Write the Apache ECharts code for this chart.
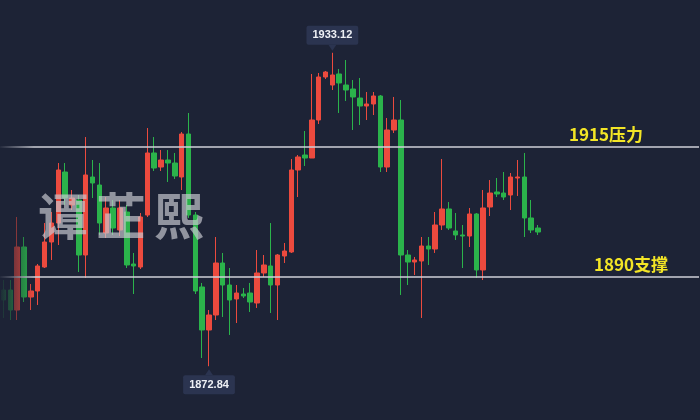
<!DOCTYPE html>
<html>
<head>
<meta charset="utf-8">
<script src="https://cdn.jsdelivr.net/npm/echarts@6/dist/echarts.min.js"></script>
<style>
html,body{margin:0;padding:0;background:#1d2336;}
#chart{width:700px;height:420px;}
</style>
</head>
<body>
<div id="chart"></div>
<script>
// ---- data ----
const opens = [
  1887.50, 1887.50, 1883.65, 1895.77, 1886.15, 1887.31, 1891.92, 1896.73, 1900.38, 1910.19,
  1903.85, 1904.81, 1894.23, 1909.23, 1907.69, 1898.46, 1903.27, 1899.04, 1902.50, 1892.50,
  1891.92, 1901.92, 1913.85, 1911.15, 1912.50, 1911.92, 1909.23, 1917.50, 1901.92, 1888.08,
  1879.81, 1882.69, 1892.69, 1888.46, 1885.77, 1886.73, 1886.92, 1885.00, 1890.77, 1892.12,
  1888.46, 1894.04, 1894.81, 1910.58, 1913.46, 1912.88, 1920.19, 1928.46, 1926.92, 1929.04,
  1926.92, 1926.15, 1924.42, 1922.88, 1923.27, 1924.81, 1911.15, 1918.27, 1920.19, 1894.23,
  1892.88, 1893.08, 1895.96, 1895.38, 1900.00, 1903.08, 1898.85, 1898.08, 1897.88, 1902.12,
  1891.35, 1903.46, 1906.35, 1906.15, 1905.77, 1909.04, 1909.23, 1901.35, 1899.42
];
const closes = [
  1885.58, 1883.65, 1895.77, 1886.15, 1887.31, 1892.12, 1896.73, 1900.38, 1910.58, 1905.19,
  1905.19, 1894.23, 1909.62, 1908.08, 1900.38, 1903.27, 1899.42, 1903.27, 1892.31, 1892.12,
  1901.54, 1913.85, 1910.96, 1912.50, 1911.92, 1909.42, 1917.50, 1901.92, 1887.31, 1879.81,
  1882.69, 1892.69, 1888.46, 1885.58, 1886.92, 1886.35, 1885.19, 1890.77, 1892.31, 1888.46,
  1894.23, 1895.00, 1910.58, 1913.08, 1912.88, 1920.19, 1928.46, 1929.42, 1928.85, 1927.31,
  1925.96, 1924.62, 1922.88, 1923.27, 1924.81, 1911.15, 1918.27, 1920.19, 1894.23, 1892.88,
  1893.27, 1895.96, 1895.38, 1900.00, 1903.08, 1899.42, 1898.08, 1897.88, 1902.12, 1891.35,
  1903.27, 1906.15, 1905.96, 1905.38, 1909.23, 1909.23, 1901.35, 1899.04, 1898.65
];
const lows = [
  1882.12, 1881.73, 1881.73, 1885.19, 1883.65, 1884.62, 1891.73, 1893.27, 1896.15, 1903.85,
  1902.88, 1890.96, 1889.81, 1905.19, 1898.08, 1897.50, 1898.08, 1897.88, 1891.73, 1886.73,
  1891.54, 1901.54, 1910.38, 1910.38, 1908.27, 1908.85, 1906.73, 1901.35, 1886.73, 1874.42,
  1872.84, 1881.73, 1882.31, 1878.85, 1881.15, 1885.96, 1883.27, 1884.04, 1890.00, 1883.08,
  1881.73, 1892.69, 1894.62, 1905.38, 1911.35, 1912.88, 1919.42, 1928.08, 1925.96, 1921.54,
  1923.85, 1918.27, 1919.23, 1920.19, 1921.15, 1910.19, 1910.19, 1917.69, 1886.54, 1888.46,
  1890.38, 1882.12, 1892.31, 1894.62, 1899.04, 1899.04, 1897.12, 1891.73, 1895.77, 1889.81,
  1889.42, 1901.73, 1905.38, 1904.81, 1902.88, 1905.58, 1897.69, 1898.46, 1898.08
];
const highs = [
  1889.42, 1889.42, 1901.54, 1897.69, 1888.65, 1892.50, 1900.38, 1902.50, 1911.92, 1911.92,
  1906.73, 1905.77, 1916.92, 1912.50, 1911.92, 1905.38, 1904.81, 1904.81, 1903.85, 1894.62,
  1902.31, 1918.65, 1916.92, 1914.42, 1914.42, 1913.85, 1917.88, 1921.54, 1902.50, 1888.85,
  1883.65, 1897.69, 1894.62, 1891.73, 1888.46, 1887.88, 1888.85, 1895.19, 1894.23, 1900.38,
  1894.42, 1896.54, 1912.69, 1913.46, 1918.08, 1929.04, 1929.23, 1929.62, 1933.12, 1930.00,
  1931.73, 1927.88, 1928.27, 1925.58, 1925.58, 1925.00, 1920.58, 1924.62, 1924.04, 1895.19,
  1893.85, 1897.69, 1897.69, 1902.50, 1912.69, 1904.42, 1902.31, 1900.00, 1903.27, 1902.31,
  1906.73, 1908.65, 1909.04, 1910.19, 1910.00, 1912.50, 1913.85, 1904.81, 1900.00
];
// support / resistance levels and their labels
const levels = [1915, 1890];
const levelLabels = ['1915压力', '1890支撑'];
// watermark
const watermarkChars = ['谭', '芷', '熙'];
// category slots (the right part of the chart is empty future space)
const slotCount = 102;
const categories = Array.from({length: slotCount}, (_, i) => 'K' + (i + 1));

// ---- build ----
const kData = opens.map((o, i) => [o, closes[i], lows[i], highs[i]]);
const BG = '#1d2336';
const UP = '#ec4a3e';
const DOWN = '#2bb34b';

const chart = echarts.init(document.getElementById('chart'), null, {renderer: 'canvas'});
const labelOffsets = [[-52, 0], [-27, 0]];

chart.setOption({
  backgroundColor: BG,
  animation: false,
  grid: {left: -1, top: 0, width: 700, height: 420},
  xAxis: {type: 'category', data: categories, show: false, boundaryGap: true},
  yAxis: {type: 'value', min: 1862.5, max: 1943.27, show: false},
  series: [{
    type: 'candlestick',
    data: kData,
    barWidth: 5,
    itemStyle: {color: UP, color0: DOWN, borderColor: UP, borderColor0: DOWN, borderWidth: 1},
    markLine: {
      silent: true,
      symbol: ['none', 'none'],
      lineStyle: {color: '#cfd1d8', width: 1.5, type: 'solid'},
      data: levels.map((v, k) => ({
        yAxis: v,
        label: {
          show: true,
          position: 'insideEndTop',
          formatter: levelLabels[k],
          color: '#f3e526',
          fontSize: 17,
          fontWeight: 'bold',
          fontFamily: '"Noto Sans CJK SC", sans-serif',
          distance: 4,
          offset: labelOffsets[k]
        }
      }))
    },
    markPoint: {
      silent: true,
      symbol: 'triangle',
      symbolSize: [8, 6],
      itemStyle: {color: '#2b3450'},
      label: {
        show: true,
        formatter: p => Number(p.value).toFixed(2),
        backgroundColor: '#2b3450',
        color: '#eef0f5',
        fontSize: 11,
        fontWeight: 'bold',
        fontFamily: '"Liberation Sans", Arial, sans-serif',
        padding: [4, 6],
        borderRadius: 2,
        distance: 0
      },
      data: [
        {type: 'max', valueDim: 'highest', symbolRotate: 180, symbolOffset: [0, -5], label: {position: 'top'}},
        {type: 'min', valueDim: 'lowest', symbolOffset: [0, 6], label: {position: 'bottom'}}
      ]
    }
  }],
  graphic: [
    ...watermarkChars.map((ch, k) => ({
      type: 'text',
      z: 50,
      x: [63, 121, 179][k],
      y: 216,
      style: {
        text: ch,
        fill: 'rgba(200,202,210,0.68)',
        font: 'bold 50px "Noto Sans CJK SC"',
        align: 'center',
        verticalAlign: 'middle'
      }
    })),
    {
      type: 'rect',
      z: 100,
      silent: true,
      shape: {x: 0, y: 0, width: 34, height: 420},
      style: {
        fill: new echarts.graphic.LinearGradient(0, 0, 1, 0, [
          {offset: 0, color: 'rgba(29,35,54,0.95)'},
          {offset: 1, color: 'rgba(29,35,54,0)'}
        ])
      }
    }
  ]
});
</script>
</body>
</html>
